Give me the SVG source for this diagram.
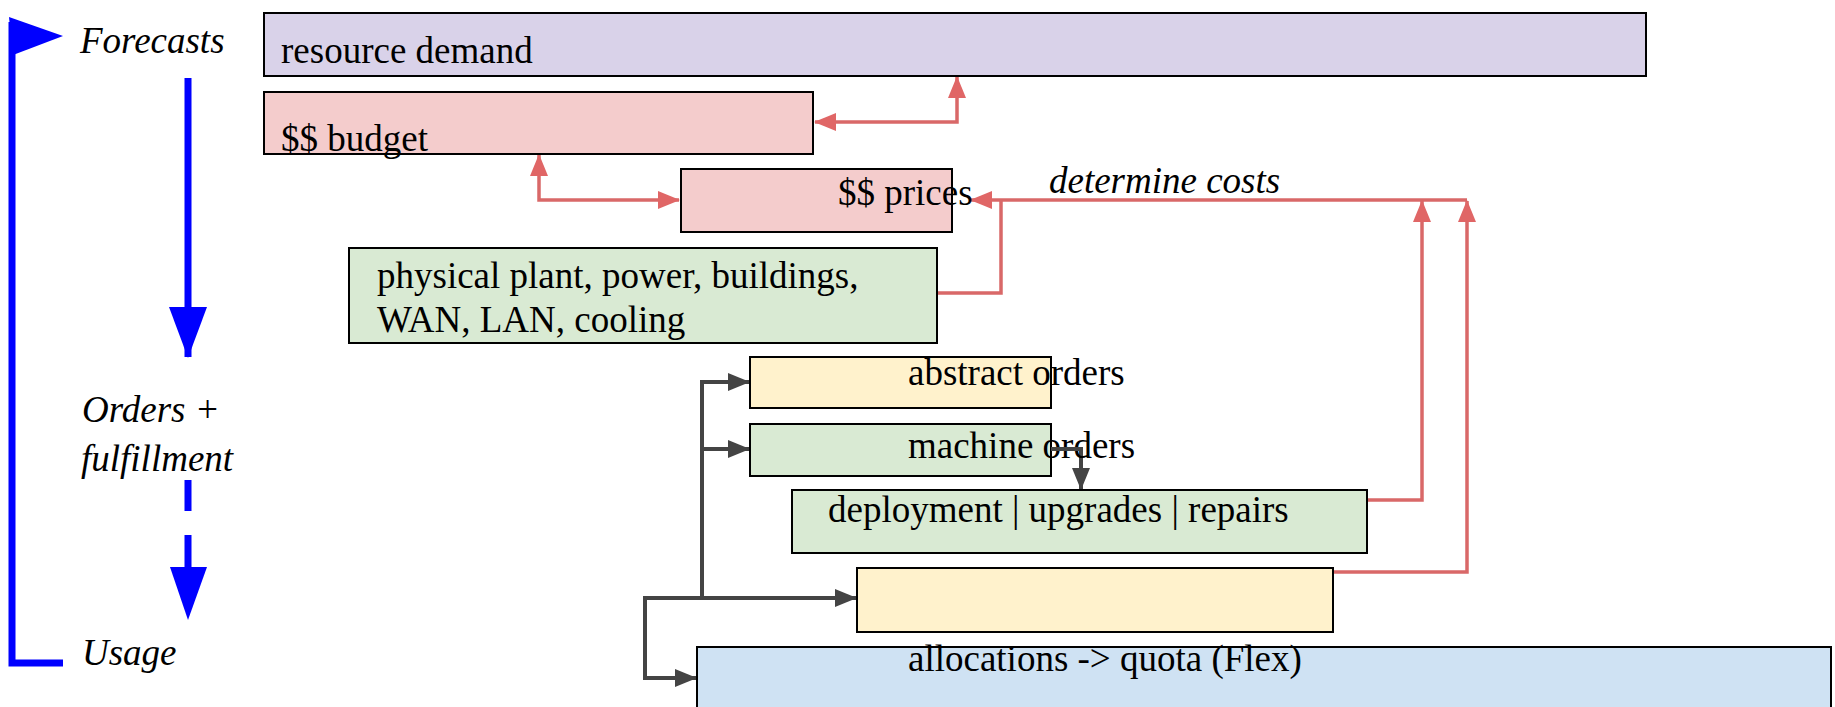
<svg xmlns="http://www.w3.org/2000/svg" width="1835" height="707" viewBox="0 0 1835 707">
<style>
text{font-family:"Liberation Serif","Times New Roman",serif;font-size:37px;fill:#000}
.it{font-style:italic}
.box{stroke:#000;stroke-width:2}
.red{fill:none;stroke:#d96868;stroke-width:3.5}
.gray{fill:none;stroke:#444;stroke-width:4}
.blue{fill:none;stroke:#0000ff;stroke-width:7}
</style>
<defs>
<marker id="ar" markerUnits="userSpaceOnUse" markerWidth="22" markerHeight="18" viewBox="0 0 22 18" refX="21" refY="9" orient="auto-start-reverse"><path d="M0,0 L22,9 L0,18 z" fill="#e06666"/></marker>
<marker id="ag" markerUnits="userSpaceOnUse" markerWidth="22" markerHeight="18" viewBox="0 0 22 18" refX="21" refY="9" orient="auto"><path d="M0,0 L22,9 L0,18 z" fill="#444"/></marker>
<marker id="ab" markerUnits="userSpaceOnUse" markerWidth="51" markerHeight="38" viewBox="0 0 51 38" refX="50" refY="19" orient="auto"><path d="M0,0 L51,19 L0,38 z" fill="#0000ff"/></marker>
</defs>

<g id="timeline">
<path class="blue" d="M12,22 V663 H63" stroke-width="6"/>
<polygon points="9,17 63,36 13,55" fill="#0000ff"/>
<text id="t-forecasts" class="it" x="80" y="53">Forecasts</text>
<text class="it" x="82" y="422">Orders +</text>
<text class="it" x="81" y="471">fulfillment</text>
<text class="it" x="82" y="665">Usage</text>
<path class="blue" d="M188,78 V357" marker-end="url(#ab)"/>
<path class="blue" d="M188,480 V511 M188,535 V590"/>
<polygon points="170,567 207,567 188,620" fill="#0000ff"/>
</g>

<g id="connectors">
<path class="red" d="M815,122 H957 V77" marker-start="url(#ar)" marker-end="url(#ar)"/>
<path class="red" d="M539,155 V200 H679" marker-start="url(#ar)" marker-end="url(#ar)"/>
<path class="red" d="M937,293 H1001 V200"/>
<path class="red" d="M1467,200 H971" marker-end="url(#ar)"/>
<path class="red" d="M1367,500 H1422 V201" marker-end="url(#ar)"/>
<path class="red" d="M1333,572 H1467 V201" marker-end="url(#ar)"/>
<path class="gray" d="M702,598 V382 H749" marker-end="url(#ag)"/>
<path class="gray" d="M702,449 H749" marker-end="url(#ag)"/>
<path class="gray" d="M645,598 H856" marker-end="url(#ag)"/>
<path class="gray" d="M645,596 V678 H696" marker-end="url(#ag)"/>
<path class="gray" d="M1051,449 H1081 V489" marker-end="url(#ag)"/>
</g>

<g id="resource-demand">
<rect class="box" x="264" y="13" width="1382" height="63" fill="#d9d2e9"/>
<text x="281" y="63">resource demand</text>
</g>
<g id="budget">
<rect class="box" x="264" y="92" width="549" height="62" fill="#f4cccc"/>
<text x="281" y="151">$$ budget</text>
</g>
<g id="prices">
<rect class="box" x="681" y="169" width="271" height="63" fill="#f4cccc"/>
<text x="838" y="205">$$ prices</text>
</g>
<text id="determine-costs" class="it" x="1049" y="193">determine costs</text>
<g id="physical-plant">
<rect class="box" x="349" y="248" width="588" height="95" fill="#d9ead3"/>
<text x="377" y="288">physical plant, power, buildings,</text>
<text x="377" y="332">WAN, LAN, cooling</text>
</g>
<g id="abstract-orders">
<rect class="box" x="750" y="357" width="301" height="51" fill="#fff2cc"/>
<text x="908" y="385">abstract orders</text>
</g>
<g id="machine-orders">
<rect class="box" x="750" y="424" width="301" height="52" fill="#d9ead3"/>
<text x="908" y="458">machine orders</text>
</g>
<path class="gray" d="M1051,449 H1081"/>
<g id="deployment">
<rect class="box" x="792" y="490" width="575" height="63" fill="#d9ead3"/>
<text x="828" y="522">deployment | upgrades | repairs</text>
</g>
<g id="empty-box">
<rect class="box" x="857" y="568" width="476" height="64" fill="#fff2cc"/>
</g>
<g id="allocations">
<rect class="box" x="697" y="647" width="1134" height="80" fill="#cfe2f3"/>
<text x="908" y="671">allocations -&gt; quota (Flex)</text>
</g>
</svg>
